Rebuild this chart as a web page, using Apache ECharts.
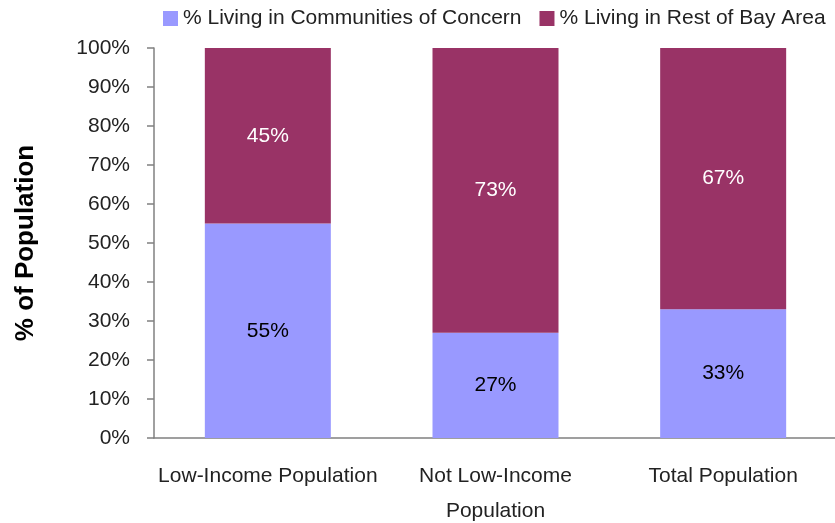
<!DOCTYPE html>
<html>
<head>
<meta charset="utf-8">
<script src="https://cdn.jsdelivr.net/npm/echarts@6/dist/echarts.min.js"></script>
<style>
  html, body { margin: 0; padding: 0; background: #ffffff; }
  #chart { width: 835px; height: 523px; }
</style>
</head>
<body>
<div id="chart"></div>
<script>
// Share of each population group by where they live
const categories = ['Low-Income Population', 'Not Low-Income\nPopulation', 'Total Population'];
const seriesNames = ['% Living in Communities of Concern', '% Living in Rest of Bay Area'];
const concernValues = [55, 27, 33];
const restValues = [45, 73, 67];
const yTicks = [0, 10, 20, 30, 40, 50, 60, 70, 80, 90, 100];

const FONT = '"Liberation Sans Narrow", "Arial Narrow", "Liberation Sans", Arial, sans-serif';
const SIZE = 21;
const chart = echarts.init(document.getElementById('chart'), null, { renderer: 'canvas' });

chart.setOption({
  animation: false,
  backgroundColor: '#ffffff',
  textStyle: { fontFamily: FONT },
  legend: {
    left: 163,
    top: 8,
    width: 672,
    padding: 0,
    orient: 'horizontal',
    itemWidth: 15,
    itemHeight: 15,
    itemGap: 18,
    icon: 'rect',
    textStyle: { fontFamily: FONT, fontSize: SIZE, color: '#222222' },
    data: seriesNames
  },
  grid: { left: 154, top: 48, width: 683, height: 390, containLabel: false, outerBoundsMode: 'none' },
  xAxis: {
    type: 'category',
    data: categories,
    axisLine: { show: true, lineStyle: { color: '#808080', width: 1.5 } },
    axisTick: { show: false },
    axisLabel: {
      fontFamily: FONT, fontSize: SIZE, color: '#222222',
      margin: 21, lineHeight: 35, interval: 0
    }
  },
  yAxis: {
    type: 'value',
    min: yTicks[0],
    max: yTicks[yTicks.length - 1],
    interval: 10,
    name: '% of Population',
    nameLocation: 'middle',
    nameGap: 115,
    nameRotate: 90,
    nameTextStyle: {
      fontFamily: '"Liberation Sans", Arial, sans-serif',
      fontWeight: 'bold', fontSize: 26, color: '#000000'
    },
    axisLine: { show: true, lineStyle: { color: '#808080', width: 1.5 } },
    axisTick: { show: true, length: 7, inside: false, lineStyle: { color: '#808080', width: 1.5 } },
    splitLine: { show: false },
    axisLabel: {
      fontFamily: FONT, fontSize: SIZE, color: '#222222', margin: 24,
      formatter: v => v + '%'
    }
  },
  series: [
    {
      name: seriesNames[0],
      type: 'bar',
      stack: 'share',
      data: concernValues,
      barWidth: 126,
      itemStyle: { color: '#9999FF' },
      label: {
        show: true, position: 'inside', formatter: '{c}%',
        fontFamily: FONT, fontSize: SIZE, color: '#000000'
      }
    },
    {
      name: seriesNames[1],
      type: 'bar',
      stack: 'share',
      data: restValues,
      barWidth: 126,
      itemStyle: { color: '#993366' },
      label: {
        show: true, position: 'inside', formatter: '{c}%',
        fontFamily: FONT, fontSize: SIZE, color: '#ffffff'
      }
    }
  ]
});
</script>
</body>
</html>
